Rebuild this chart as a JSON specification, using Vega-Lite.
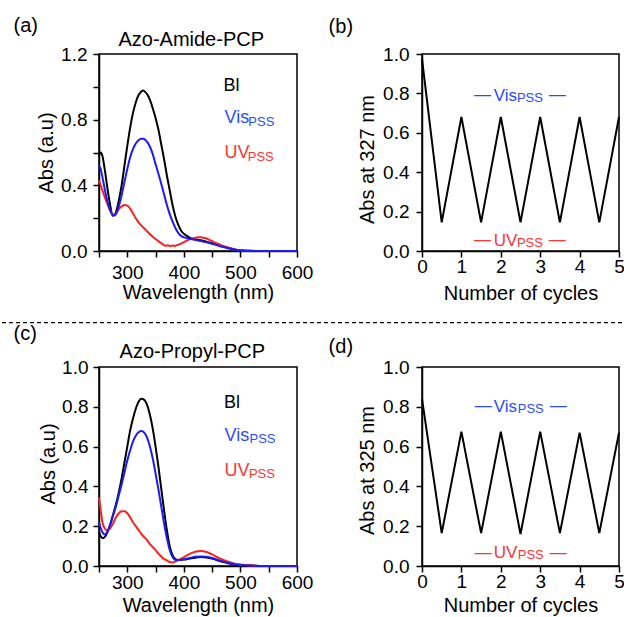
{
"$schema": "https://vega.github.io/schema/vega-lite/v6.json",
"padding": {"left": 0, "top": 15, "right": 0, "bottom": 0},
"columns": 2,
"spacing": {"row": 116, "column": 125},
"bounds": "flush",
"config": {
  "view": {"stroke": "black", "strokeWidth": 1.5},
  "axis": {"domainColor": "black", "domainWidth": 1.5, "tickColor": "black", "tickWidth": 1.5, "tickSize": 6, "labelFont": "Liberation Sans", "labelFontSize": 19, "labelColor": "black", "titleFont": "Liberation Sans", "titleFontSize": 20, "titleFontWeight": "normal", "titleColor": "black", "grid": false, "labelOverlap": false, "labelFlush": false},
  "text": {"font": "Liberation Sans", "align": "left", "baseline": "alphabetic"}
},
"datasets": {
  "specA": [
    {"wl":250,"a":0.58,"s":"Bl"},{"wl":253,"a":0.60,"s":"Bl"},{"wl":256,"a":0.58,"s":"Bl"},{"wl":260,"a":0.50,"s":"Bl"},{"wl":265,"a":0.38,"s":"Bl"},{"wl":270,"a":0.275,"s":"Bl"},{"wl":274,"a":0.215,"s":"Bl"},{"wl":278,"a":0.222,"s":"Bl"},{"wl":282,"a":0.26,"s":"Bl"},{"wl":286,"a":0.325,"s":"Bl"},{"wl":290,"a":0.40,"s":"Bl"},{"wl":295,"a":0.52,"s":"Bl"},{"wl":300,"a":0.64,"s":"Bl"},{"wl":305,"a":0.75,"s":"Bl"},{"wl":310,"a":0.84,"s":"Bl"},{"wl":315,"a":0.905,"s":"Bl"},{"wl":320,"a":0.95,"s":"Bl"},{"wl":325,"a":0.972,"s":"Bl"},{"wl":328,"a":0.978,"s":"Bl"},{"wl":332,"a":0.968,"s":"Bl"},{"wl":336,"a":0.95,"s":"Bl"},{"wl":340,"a":0.92,"s":"Bl"},{"wl":345,"a":0.87,"s":"Bl"},{"wl":350,"a":0.81,"s":"Bl"},{"wl":355,"a":0.74,"s":"Bl"},{"wl":360,"a":0.65,"s":"Bl"},{"wl":365,"a":0.56,"s":"Bl"},{"wl":370,"a":0.46,"s":"Bl"},{"wl":375,"a":0.37,"s":"Bl"},{"wl":380,"a":0.28,"s":"Bl"},{"wl":385,"a":0.21,"s":"Bl"},{"wl":390,"a":0.16,"s":"Bl"},{"wl":395,"a":0.125,"s":"Bl"},{"wl":400,"a":0.105,"s":"Bl"},{"wl":405,"a":0.092,"s":"Bl"},{"wl":410,"a":0.082,"s":"Bl"},{"wl":420,"a":0.072,"s":"Bl"},{"wl":430,"a":0.065,"s":"Bl"},{"wl":440,"a":0.057,"s":"Bl"},{"wl":450,"a":0.047,"s":"Bl"},{"wl":460,"a":0.037,"s":"Bl"},{"wl":470,"a":0.027,"s":"Bl"},{"wl":480,"a":0.018,"s":"Bl"},{"wl":490,"a":0.01,"s":"Bl"},{"wl":500,"a":0.005,"s":"Bl"},{"wl":510,"a":0.002,"s":"Bl"},{"wl":520,"a":0.001,"s":"Bl"},{"wl":540,"a":0,"s":"Bl"},{"wl":600,"a":0,"s":"Bl"},
    {"wl":250,"a":0.43,"s":"UV"},{"wl":255,"a":0.38,"s":"UV"},{"wl":260,"a":0.33,"s":"UV"},{"wl":265,"a":0.285,"s":"UV"},{"wl":270,"a":0.245,"s":"UV"},{"wl":275,"a":0.222,"s":"UV"},{"wl":278,"a":0.225,"s":"UV"},{"wl":282,"a":0.24,"s":"UV"},{"wl":286,"a":0.26,"s":"UV"},{"wl":290,"a":0.272,"s":"UV"},{"wl":295,"a":0.28,"s":"UV"},{"wl":300,"a":0.276,"s":"UV"},{"wl":305,"a":0.258,"s":"UV"},{"wl":310,"a":0.23,"s":"UV"},{"wl":315,"a":0.2,"s":"UV"},{"wl":320,"a":0.175,"s":"UV"},{"wl":325,"a":0.155,"s":"UV"},{"wl":330,"a":0.137,"s":"UV"},{"wl":335,"a":0.12,"s":"UV"},{"wl":340,"a":0.102,"s":"UV"},{"wl":345,"a":0.087,"s":"UV"},{"wl":350,"a":0.073,"s":"UV"},{"wl":355,"a":0.06,"s":"UV"},{"wl":360,"a":0.047,"s":"UV"},{"wl":364,"a":0.038,"s":"UV"},{"wl":368,"a":0.032,"s":"UV"},{"wl":372,"a":0.035,"s":"UV"},{"wl":376,"a":0.029,"s":"UV"},{"wl":380,"a":0.033,"s":"UV"},{"wl":384,"a":0.031,"s":"UV"},{"wl":388,"a":0.036,"s":"UV"},{"wl":392,"a":0.04,"s":"UV"},{"wl":396,"a":0.047,"s":"UV"},{"wl":400,"a":0.054,"s":"UV"},{"wl":405,"a":0.063,"s":"UV"},{"wl":410,"a":0.071,"s":"UV"},{"wl":415,"a":0.076,"s":"UV"},{"wl":420,"a":0.08,"s":"UV"},{"wl":425,"a":0.083,"s":"UV"},{"wl":430,"a":0.083,"s":"UV"},{"wl":435,"a":0.081,"s":"UV"},{"wl":440,"a":0.076,"s":"UV"},{"wl":445,"a":0.068,"s":"UV"},{"wl":450,"a":0.06,"s":"UV"},{"wl":460,"a":0.044,"s":"UV"},{"wl":470,"a":0.03,"s":"UV"},{"wl":480,"a":0.018,"s":"UV"},{"wl":490,"a":0.009,"s":"UV"},{"wl":500,"a":0.004,"s":"UV"},{"wl":510,"a":0.001,"s":"UV"},{"wl":520,"a":0,"s":"UV"},{"wl":600,"a":0,"s":"UV"},
    {"wl":250,"a":0.52,"s":"Vis"},{"wl":253,"a":0.50,"s":"Vis"},{"wl":256,"a":0.45,"s":"Vis"},{"wl":260,"a":0.38,"s":"Vis"},{"wl":265,"a":0.30,"s":"Vis"},{"wl":270,"a":0.245,"s":"Vis"},{"wl":275,"a":0.217,"s":"Vis"},{"wl":278,"a":0.218,"s":"Vis"},{"wl":282,"a":0.24,"s":"Vis"},{"wl":286,"a":0.285,"s":"Vis"},{"wl":290,"a":0.34,"s":"Vis"},{"wl":295,"a":0.42,"s":"Vis"},{"wl":300,"a":0.50,"s":"Vis"},{"wl":305,"a":0.57,"s":"Vis"},{"wl":310,"a":0.62,"s":"Vis"},{"wl":315,"a":0.655,"s":"Vis"},{"wl":320,"a":0.675,"s":"Vis"},{"wl":325,"a":0.683,"s":"Vis"},{"wl":328,"a":0.683,"s":"Vis"},{"wl":332,"a":0.676,"s":"Vis"},{"wl":336,"a":0.66,"s":"Vis"},{"wl":340,"a":0.635,"s":"Vis"},{"wl":345,"a":0.59,"s":"Vis"},{"wl":350,"a":0.53,"s":"Vis"},{"wl":355,"a":0.47,"s":"Vis"},{"wl":360,"a":0.41,"s":"Vis"},{"wl":365,"a":0.345,"s":"Vis"},{"wl":370,"a":0.28,"s":"Vis"},{"wl":375,"a":0.225,"s":"Vis"},{"wl":380,"a":0.18,"s":"Vis"},{"wl":385,"a":0.14,"s":"Vis"},{"wl":390,"a":0.11,"s":"Vis"},{"wl":395,"a":0.092,"s":"Vis"},{"wl":400,"a":0.083,"s":"Vis"},{"wl":410,"a":0.075,"s":"Vis"},{"wl":420,"a":0.068,"s":"Vis"},{"wl":430,"a":0.061,"s":"Vis"},{"wl":440,"a":0.053,"s":"Vis"},{"wl":450,"a":0.044,"s":"Vis"},{"wl":460,"a":0.034,"s":"Vis"},{"wl":470,"a":0.024,"s":"Vis"},{"wl":480,"a":0.015,"s":"Vis"},{"wl":490,"a":0.008,"s":"Vis"},{"wl":500,"a":0.003,"s":"Vis"},{"wl":510,"a":0.001,"s":"Vis"},{"wl":520,"a":0,"s":"Vis"},{"wl":600,"a":0,"s":"Vis"}
  ],
  "specC": [
    {"wl":250,"a":0.17,"s":"Bl"},{"wl":253,"a":0.15,"s":"Bl"},{"wl":257,"a":0.14,"s":"Bl"},{"wl":260,"a":0.145,"s":"Bl"},{"wl":265,"a":0.17,"s":"Bl"},{"wl":270,"a":0.21,"s":"Bl"},{"wl":275,"a":0.26,"s":"Bl"},{"wl":280,"a":0.31,"s":"Bl"},{"wl":285,"a":0.37,"s":"Bl"},{"wl":290,"a":0.44,"s":"Bl"},{"wl":295,"a":0.52,"s":"Bl"},{"wl":300,"a":0.6,"s":"Bl"},{"wl":305,"a":0.68,"s":"Bl"},{"wl":310,"a":0.74,"s":"Bl"},{"wl":315,"a":0.79,"s":"Bl"},{"wl":320,"a":0.825,"s":"Bl"},{"wl":325,"a":0.84,"s":"Bl"},{"wl":330,"a":0.835,"s":"Bl"},{"wl":335,"a":0.81,"s":"Bl"},{"wl":340,"a":0.76,"s":"Bl"},{"wl":345,"a":0.69,"s":"Bl"},{"wl":350,"a":0.6,"s":"Bl"},{"wl":355,"a":0.5,"s":"Bl"},{"wl":360,"a":0.39,"s":"Bl"},{"wl":365,"a":0.28,"s":"Bl"},{"wl":370,"a":0.18,"s":"Bl"},{"wl":375,"a":0.1,"s":"Bl"},{"wl":380,"a":0.055,"s":"Bl"},{"wl":385,"a":0.035,"s":"Bl"},{"wl":390,"a":0.03,"s":"Bl"},{"wl":400,"a":0.032,"s":"Bl"},{"wl":410,"a":0.037,"s":"Bl"},{"wl":420,"a":0.042,"s":"Bl"},{"wl":430,"a":0.045,"s":"Bl"},{"wl":440,"a":0.043,"s":"Bl"},{"wl":450,"a":0.037,"s":"Bl"},{"wl":460,"a":0.028,"s":"Bl"},{"wl":470,"a":0.02,"s":"Bl"},{"wl":480,"a":0.013,"s":"Bl"},{"wl":490,"a":0.008,"s":"Bl"},{"wl":500,"a":0.005,"s":"Bl"},{"wl":520,"a":0.002,"s":"Bl"},{"wl":540,"a":0,"s":"Bl"},{"wl":600,"a":0,"s":"Bl"},
    {"wl":250,"a":0.345,"s":"UV"},{"wl":253,"a":0.28,"s":"UV"},{"wl":256,"a":0.22,"s":"UV"},{"wl":260,"a":0.19,"s":"UV"},{"wl":265,"a":0.178,"s":"UV"},{"wl":270,"a":0.19,"s":"UV"},{"wl":275,"a":0.215,"s":"UV"},{"wl":280,"a":0.245,"s":"UV"},{"wl":285,"a":0.265,"s":"UV"},{"wl":290,"a":0.275,"s":"UV"},{"wl":295,"a":0.275,"s":"UV"},{"wl":300,"a":0.265,"s":"UV"},{"wl":305,"a":0.245,"s":"UV"},{"wl":310,"a":0.22,"s":"UV"},{"wl":315,"a":0.2,"s":"UV"},{"wl":320,"a":0.18,"s":"UV"},{"wl":325,"a":0.16,"s":"UV"},{"wl":330,"a":0.145,"s":"UV"},{"wl":335,"a":0.13,"s":"UV"},{"wl":340,"a":0.11,"s":"UV"},{"wl":345,"a":0.095,"s":"UV"},{"wl":350,"a":0.08,"s":"UV"},{"wl":355,"a":0.062,"s":"UV"},{"wl":360,"a":0.048,"s":"UV"},{"wl":365,"a":0.035,"s":"UV"},{"wl":370,"a":0.028,"s":"UV"},{"wl":375,"a":0.02,"s":"UV"},{"wl":380,"a":0.018,"s":"UV"},{"wl":385,"a":0.022,"s":"UV"},{"wl":390,"a":0.03,"s":"UV"},{"wl":400,"a":0.045,"s":"UV"},{"wl":410,"a":0.06,"s":"UV"},{"wl":420,"a":0.072,"s":"UV"},{"wl":430,"a":0.075,"s":"UV"},{"wl":440,"a":0.07,"s":"UV"},{"wl":450,"a":0.058,"s":"UV"},{"wl":460,"a":0.043,"s":"UV"},{"wl":470,"a":0.03,"s":"UV"},{"wl":480,"a":0.02,"s":"UV"},{"wl":490,"a":0.012,"s":"UV"},{"wl":500,"a":0.007,"s":"UV"},{"wl":520,"a":0.002,"s":"UV"},{"wl":540,"a":0,"s":"UV"},{"wl":600,"a":0,"s":"UV"},
    {"wl":250,"a":0.22,"s":"Vis"},{"wl":253,"a":0.19,"s":"Vis"},{"wl":257,"a":0.165,"s":"Vis"},{"wl":260,"a":0.158,"s":"Vis"},{"wl":265,"a":0.175,"s":"Vis"},{"wl":270,"a":0.21,"s":"Vis"},{"wl":275,"a":0.255,"s":"Vis"},{"wl":280,"a":0.3,"s":"Vis"},{"wl":285,"a":0.355,"s":"Vis"},{"wl":290,"a":0.41,"s":"Vis"},{"wl":295,"a":0.47,"s":"Vis"},{"wl":300,"a":0.53,"s":"Vis"},{"wl":305,"a":0.58,"s":"Vis"},{"wl":310,"a":0.625,"s":"Vis"},{"wl":315,"a":0.655,"s":"Vis"},{"wl":320,"a":0.672,"s":"Vis"},{"wl":325,"a":0.678,"s":"Vis"},{"wl":330,"a":0.67,"s":"Vis"},{"wl":335,"a":0.645,"s":"Vis"},{"wl":340,"a":0.6,"s":"Vis"},{"wl":345,"a":0.54,"s":"Vis"},{"wl":350,"a":0.465,"s":"Vis"},{"wl":355,"a":0.385,"s":"Vis"},{"wl":360,"a":0.3,"s":"Vis"},{"wl":365,"a":0.215,"s":"Vis"},{"wl":370,"a":0.14,"s":"Vis"},{"wl":375,"a":0.08,"s":"Vis"},{"wl":380,"a":0.045,"s":"Vis"},{"wl":385,"a":0.03,"s":"Vis"},{"wl":390,"a":0.03,"s":"Vis"},{"wl":400,"a":0.034,"s":"Vis"},{"wl":410,"a":0.04,"s":"Vis"},{"wl":420,"a":0.046,"s":"Vis"},{"wl":430,"a":0.048,"s":"Vis"},{"wl":440,"a":0.046,"s":"Vis"},{"wl":450,"a":0.04,"s":"Vis"},{"wl":460,"a":0.031,"s":"Vis"},{"wl":470,"a":0.022,"s":"Vis"},{"wl":480,"a":0.015,"s":"Vis"},{"wl":490,"a":0.009,"s":"Vis"},{"wl":500,"a":0.005,"s":"Vis"},{"wl":520,"a":0.002,"s":"Vis"},{"wl":540,"a":0,"s":"Vis"},{"wl":600,"a":0,"s":"Vis"}
  ],
  "cycB": [
    {"c":0,"v":0.975},{"c":0.5,"v":0.145},{"c":1,"v":0.68},{"c":1.5,"v":0.145},{"c":2,"v":0.68},{"c":2.5,"v":0.145},{"c":3,"v":0.68},{"c":3.5,"v":0.145},{"c":4,"v":0.68},{"c":4.5,"v":0.145},{"c":5,"v":0.68}
  ],
  "cycD": [
    {"c":0,"v":0.84},{"c":0.5,"v":0.165},{"c":1,"v":0.675},{"c":1.5,"v":0.165},{"c":2,"v":0.675},{"c":2.5,"v":0.16},{"c":3,"v":0.675},{"c":3.5,"v":0.165},{"c":4,"v":0.67},{"c":4.5,"v":0.165},{"c":5,"v":0.67}
  ]
},
"concat": [
  {
    "width": 198, "height": 197,
    "resolve": {"axis": {"x": "independent", "y": "independent"}},
    "layer": [
      {"data": {"name": "specA"}, "mark": {"type": "line", "strokeWidth": 2, "interpolate": "monotone"},
       "encoding": {
        "x": {"field": "wl", "type": "quantitative", "title": "Wavelength (nm)", "scale": {"domain": [250, 600], "nice": false, "zero": false}, "axis": {"values": [250,300,350,400,450,500,550,600], "format": "d", "labelExpr": "datum.value % 100 === 0 ? datum.label : ''", "labelPadding": 6, "titlePadding": 0}},
        "y": {"field": "a", "type": "quantitative", "title": "Abs (a.u)", "scale": {"domain": [0, 1.2], "nice": false}, "axis": {"values": [0,0.2,0.4,0.6,0.8,1,1.2], "format": ".1f", "labelExpr": "(datum.value === 0 || abs(datum.value - 0.4) < 0.01 || abs(datum.value - 0.8) < 0.01 || abs(datum.value - 1.2) < 0.01) ? datum.label : ''", "labelPadding": 6, "titlePadding": 4}},
        "color": {"field": "s", "type": "nominal", "scale": {"domain": ["Bl", "UV", "Vis"], "range": ["black", "#ff1f1f", "#1a1aff"]}, "legend": null}
       }},
      {"data": {"values": [{}]}, "mark": {"type": "text", "text": "(a)", "fontSize": 20, "color": "black"}, "encoding": {"x": {"datum": 99, "axis": null}, "y": {"datum": 1.334, "axis": null}}},
      {"data": {"values": [{}]}, "mark": {"type": "text", "text": "Azo-Amide-PCP", "fontSize": 20, "align": "center", "color": "black"}, "encoding": {"x": {"datum": 413, "axis": null}, "y": {"datum": 1.2487, "axis": null}}},
      {"data": {"values": [{}]}, "mark": {"type": "text", "text": "Bl", "fontSize": 18, "color": "black"}, "encoding": {"x": {"datum": 470, "axis": null}, "y": {"datum": 0.975, "axis": null}}},
      {"data": {"values": [{}]}, "mark": {"type": "text", "text": "Vis", "fontSize": 18, "color": "#2b4bff"}, "encoding": {"x": {"datum": 472, "axis": null}, "y": {"datum": 0.781, "axis": null}}},
      {"data": {"values": [{}]}, "mark": {"type": "text", "text": "PSS", "fontSize": 13, "color": "#2b4bff"}, "encoding": {"x": {"datum": 514, "axis": null}, "y": {"datum": 0.761, "axis": null}}},
      {"data": {"values": [{}]}, "mark": {"type": "text", "text": "UV", "fontSize": 18, "color": "#ff3333"}, "encoding": {"x": {"datum": 472, "axis": null}, "y": {"datum": 0.568, "axis": null}}},
      {"data": {"values": [{}]}, "mark": {"type": "text", "text": "PSS", "fontSize": 13, "color": "#ff3333"}, "encoding": {"x": {"datum": 513, "axis": null}, "y": {"datum": 0.55, "axis": null}}}
    ]
  },
  {
    "width": 197, "height": 197,
    "resolve": {"axis": {"x": "independent", "y": "independent"}},
    "layer": [
      {"data": {"name": "cycB"}, "mark": {"type": "line", "color": "black", "strokeWidth": 2},
       "encoding": {
        "x": {"field": "c", "type": "quantitative", "title": "Number of cycles", "scale": {"domain": [0, 5], "nice": false, "zero": false}, "axis": {"values": [0,1,2,3,4,5], "format": "d", "labelPadding": 0, "titlePadding": 7}},
        "y": {"field": "v", "type": "quantitative", "title": "Abs at 327 nm", "scale": {"domain": [0, 1], "nice": false}, "axis": {"values": [0,0.2,0.4,0.6,0.8,1], "format": ".1f", "labelPadding": 7, "titlePadding": 5, "titleY": 105}}
       }},
      {"data": {"values": [{}]}, "mark": {"type": "text", "text": "(b)", "fontSize": 20, "color": "black"}, "encoding": {"x": {"datum": -2.37, "axis": null}, "y": {"datum": 1.106, "axis": null}}},
      {"data": {"values": [{}]}, "mark": {"type": "text", "text": "—", "fontSize": 17, "color": "#2b4bff"}, "encoding": {"x": {"datum": 1.32, "axis": null}, "y": {"datum": 0.765, "axis": null}}},
      {"data": {"values": [{}]}, "mark": {"type": "text", "text": "Vis", "fontSize": 17, "color": "#2b4bff"}, "encoding": {"x": {"datum": 1.82, "axis": null}, "y": {"datum": 0.763, "axis": null}}},
      {"data": {"values": [{}]}, "mark": {"type": "text", "text": "PSS", "fontSize": 13, "color": "#2b4bff"}, "encoding": {"x": {"datum": 2.41, "axis": null}, "y": {"datum": 0.757, "axis": null}}},
      {"data": {"values": [{}]}, "mark": {"type": "text", "text": "—", "fontSize": 17, "color": "#2b4bff"}, "encoding": {"x": {"datum": 3.22, "axis": null}, "y": {"datum": 0.765, "axis": null}}},
      {"data": {"values": [{}]}, "mark": {"type": "text", "text": "—", "fontSize": 17, "color": "#ff3333"}, "encoding": {"x": {"datum": 1.32, "axis": null}, "y": {"datum": 0.028, "axis": null}}},
      {"data": {"values": [{}]}, "mark": {"type": "text", "text": "UV", "fontSize": 17, "color": "#ff3333"}, "encoding": {"x": {"datum": 1.82, "axis": null}, "y": {"datum": 0.027, "axis": null}}},
      {"data": {"values": [{}]}, "mark": {"type": "text", "text": "PSS", "fontSize": 13, "color": "#ff3333"}, "encoding": {"x": {"datum": 2.41, "axis": null}, "y": {"datum": 0.021, "axis": null}}},
      {"data": {"values": [{}]}, "mark": {"type": "text", "text": "—", "fontSize": 17, "color": "#ff3333"}, "encoding": {"x": {"datum": 3.22, "axis": null}, "y": {"datum": 0.028, "axis": null}}}
    ]
  },
  {
    "width": 198, "height": 199,
    "resolve": {"axis": {"x": "independent", "y": "independent"}},
    "layer": [
      {"data": {"name": "specC"}, "mark": {"type": "line", "strokeWidth": 2, "interpolate": "monotone"},
       "encoding": {
        "x": {"field": "wl", "type": "quantitative", "title": "Wavelength (nm)", "scale": {"domain": [250, 600], "nice": false, "zero": false}, "axis": {"values": [250,300,350,400,450,500,550,600], "format": "d", "labelExpr": "datum.value % 100 === 0 ? datum.label : ''", "labelPadding": 1, "titlePadding": 3}},
        "y": {"field": "a", "type": "quantitative", "title": "Abs (a.u)", "scale": {"domain": [0, 1], "nice": false}, "axis": {"values": [0,0.2,0.4,0.6,0.8,1], "format": ".1f", "labelPadding": 5, "titlePadding": 3, "titleY": 96.5}},
        "color": {"field": "s", "type": "nominal", "scale": {"domain": ["Bl", "UV", "Vis"], "range": ["black", "#ff1f1f", "#1a1aff"]}, "legend": null}
       }},
      {"data": {"values": [{}]}, "mark": {"type": "rule", "color": "black", "strokeWidth": 1.3, "strokeDash": [4, 3]}, "encoding": {"x": {"datum": 78.53, "axis": null}, "x2": {"datum": 1181.6}, "y": {"datum": 1.2226, "axis": null}}},
      {"data": {"values": [{}]}, "mark": {"type": "text", "text": "(c)", "fontSize": 20, "color": "black"}, "encoding": {"x": {"datum": 99, "axis": null}, "y": {"datum": 1.136, "axis": null}}},
      {"data": {"values": [{}]}, "mark": {"type": "text", "text": "Azo-Propyl-PCP", "fontSize": 20, "align": "center", "color": "black"}, "encoding": {"x": {"datum": 415, "axis": null}, "y": {"datum": 1.045, "axis": null}}},
      {"data": {"values": [{}]}, "mark": {"type": "text", "text": "Bl", "fontSize": 18, "color": "black"}, "encoding": {"x": {"datum": 471, "axis": null}, "y": {"datum": 0.795, "axis": null}}},
      {"data": {"values": [{}]}, "mark": {"type": "text", "text": "Vis", "fontSize": 18, "color": "#2b4bff"}, "encoding": {"x": {"datum": 472, "axis": null}, "y": {"datum": 0.628, "axis": null}}},
      {"data": {"values": [{}]}, "mark": {"type": "text", "text": "PSS", "fontSize": 13, "color": "#2b4bff"}, "encoding": {"x": {"datum": 516, "axis": null}, "y": {"datum": 0.62, "axis": null}}},
      {"data": {"values": [{}]}, "mark": {"type": "text", "text": "UV", "fontSize": 18, "color": "#ff3333"}, "encoding": {"x": {"datum": 472, "axis": null}, "y": {"datum": 0.452, "axis": null}}},
      {"data": {"values": [{}]}, "mark": {"type": "text", "text": "PSS", "fontSize": 13, "color": "#ff3333"}, "encoding": {"x": {"datum": 515, "axis": null}, "y": {"datum": 0.444, "axis": null}}}
    ]
  },
  {
    "width": 197, "height": 199,
    "resolve": {"axis": {"x": "independent", "y": "independent"}},
    "layer": [
      {"data": {"name": "cycD"}, "mark": {"type": "line", "color": "black", "strokeWidth": 2},
       "encoding": {
        "x": {"field": "c", "type": "quantitative", "title": "Number of cycles", "scale": {"domain": [0, 5], "nice": false, "zero": false}, "axis": {"values": [0,0.5,1,1.5,2,2.5,3,3.5,4,4.5,5], "format": "d", "labelExpr": "datum.value % 1 === 0 ? datum.label : ''", "labelPadding": 0, "titlePadding": 4}},
        "y": {"field": "v", "type": "quantitative", "title": "Abs at 325 nm", "scale": {"domain": [0, 1], "nice": false}, "axis": {"values": [0,0.2,0.4,0.6,0.8,1], "format": ".1f", "labelPadding": 7, "titlePadding": 5, "titleY": 103}}
       }},
      {"data": {"values": [{}]}, "mark": {"type": "text", "text": "(d)", "fontSize": 20, "color": "black"}, "encoding": {"x": {"datum": -2.37, "axis": null}, "y": {"datum": 1.071, "axis": null}}},
      {"data": {"values": [{}]}, "mark": {"type": "text", "text": "—", "fontSize": 17, "color": "#2b4bff"}, "encoding": {"x": {"datum": 1.34, "axis": null}, "y": {"datum": 0.777, "axis": null}}},
      {"data": {"values": [{}]}, "mark": {"type": "text", "text": "Vis", "fontSize": 17, "color": "#2b4bff"}, "encoding": {"x": {"datum": 1.82, "axis": null}, "y": {"datum": 0.775, "axis": null}}},
      {"data": {"values": [{}]}, "mark": {"type": "text", "text": "PSS", "fontSize": 13, "color": "#2b4bff"}, "encoding": {"x": {"datum": 2.43, "axis": null}, "y": {"datum": 0.768, "axis": null}}},
      {"data": {"values": [{}]}, "mark": {"type": "text", "text": "—", "fontSize": 17, "color": "#2b4bff"}, "encoding": {"x": {"datum": 3.24, "axis": null}, "y": {"datum": 0.777, "axis": null}}},
      {"data": {"values": [{}]}, "mark": {"type": "text", "text": "—", "fontSize": 17, "color": "#ff3333"}, "encoding": {"x": {"datum": 1.34, "axis": null}, "y": {"datum": 0.042, "axis": null}}},
      {"data": {"values": [{}]}, "mark": {"type": "text", "text": "UV", "fontSize": 17, "color": "#ff3333"}, "encoding": {"x": {"datum": 1.82, "axis": null}, "y": {"datum": 0.04, "axis": null}}},
      {"data": {"values": [{}]}, "mark": {"type": "text", "text": "PSS", "fontSize": 13, "color": "#ff3333"}, "encoding": {"x": {"datum": 2.43, "axis": null}, "y": {"datum": 0.033, "axis": null}}},
      {"data": {"values": [{}]}, "mark": {"type": "text", "text": "—", "fontSize": 17, "color": "#ff3333"}, "encoding": {"x": {"datum": 3.24, "axis": null}, "y": {"datum": 0.042, "axis": null}}}
    ]
  }
]
}
